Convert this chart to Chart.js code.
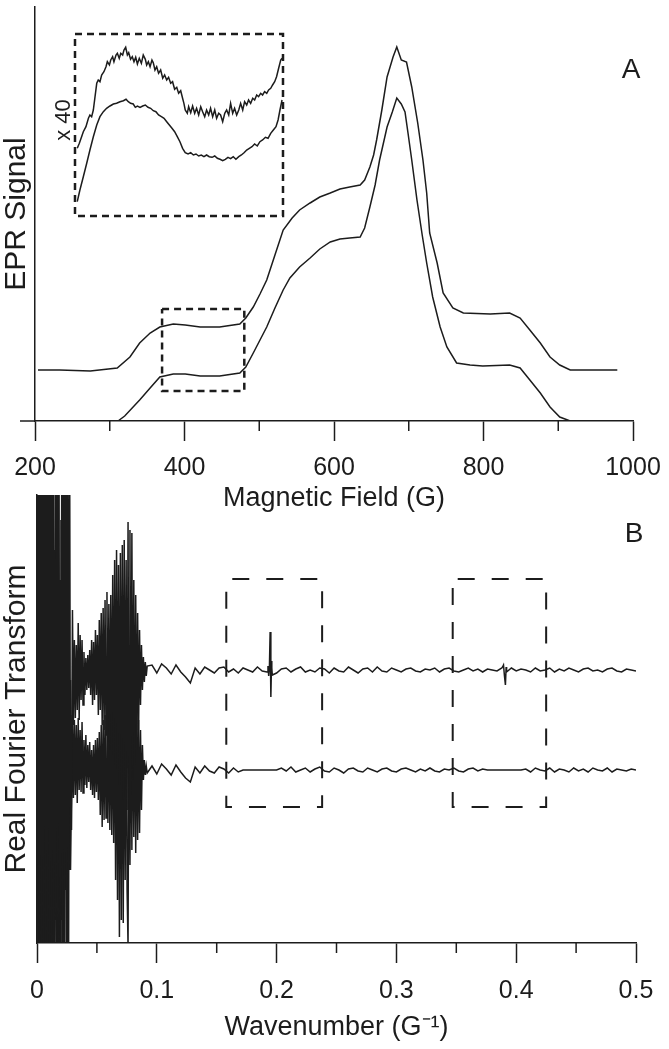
<!DOCTYPE html>
<html>
<head>
<meta charset="utf-8">
<script src="https://cdn.jsdelivr.net/npm/chart.js@4.4.1/dist/chart.umd.min.js"></script>
<style>
  body { margin: 0; background: #fff; }
  #wrap { position: relative; width: 669px; height: 1049px; }
  canvas { position: absolute; left: 0; }
  #chartA { top: 0; }
  #chartB { top: 480px; }
</style>
</head>
<body>
<div id="wrap">
  <canvas id="chartA" width="669" height="520"></canvas>
  <canvas id="chartB" width="669" height="569"></canvas>
</div>
<script>
// ---- panel A : EPR spectra (field in G, signal in arbitrary units) ----
const eprUpperField = [204, 233, 274, 310, 327, 340, 354, 367, 385, 401,
  421, 447, 474, 482, 492, 501, 510, 521, 532, 544,
  554, 568, 581, 595, 608, 621, 635, 641, 648, 653,
  657, 664, 671, 675, 679, 684, 690, 697, 704, 712,
  719, 724, 728, 738, 746, 759, 773, 809, 835, 849,
  862, 876, 889, 902, 916, 952, 979]
const eprUpper = [51, 51, 50, 53, 64, 78, 88, 94, 97, 96,
  94, 94, 97, 103, 114, 127, 141, 166, 191, 203,
  211, 218, 224, 228, 232, 234, 236, 241, 254, 266,
  281, 311, 344, 354, 364, 374, 361, 359, 334, 298,
  261, 228, 188, 158, 128, 113, 108, 107, 108, 103,
  91, 78, 64, 56, 51, 51, 51]

const eprLowerField = [200, 311, 320, 340, 354, 367, 385, 401, 421, 447,
  474, 482, 492, 501, 510, 521, 532, 541, 554, 568,
  581, 595, 608, 621, 635, 641, 648, 655, 661, 671,
  678, 684, 690, 695, 699, 704, 711, 718, 724, 732,
  742, 751, 764, 782, 799, 835, 849, 862, 876, 889,
  902, 916, 1000]
const eprLower = [0, 0, 5, 21, 33, 44, 47, 47, 45, 45,
  48, 54, 68, 81, 94, 113, 131, 143, 154, 163,
  172, 179, 182, 183, 184, 193, 214, 236, 261, 294,
  309, 323, 317, 309, 288, 261, 221, 186, 158, 124,
  94, 74, 58, 56, 55, 56, 53, 41, 28, 14,
  4, 0, 0]

// zoomed window (x 40 inset)
const zoomField = [370, 480]
const zoomSignal = [30, 112]
const insetFrame = [0, 182]

const insetUpperField = [371.2, 372.3, 373.5, 374.4, 375.8, 377.1, 377.9, 378.8, 379.7, 380.6,
  381.5, 382.3, 383.2, 384.1, 385.3, 386.4, 387.1, 388.2, 388.9, 389.9,
  390.6, 391.7, 392.4, 393.4, 394.2, 395.2, 395.9, 396.8, 397.7, 398.4,
  399.4, 400.3, 401.2, 402.1, 403.0, 404.0, 405.1, 406.1, 407.2, 407.9,
  408.8, 409.7, 410.7, 411.4, 412.3, 413.2, 414.2, 415.3, 416.4, 417.4,
  418.5, 419.5, 420.6, 421.6, 422.7, 423.8, 424.8, 425.9, 426.9, 427.6,
  428.3, 429.4, 430.1, 431.2, 432.2, 433.3, 434.3, 435.4, 436.5, 437.5,
  438.6, 439.6, 440.7, 441.7, 442.8, 443.9, 444.9, 446.0, 447.0, 448.1,
  449.2, 450.2, 451.3, 452.3, 453.4, 454.4, 455.5, 456.6, 457.6, 458.7,
  459.7, 460.8, 461.8, 462.9, 464.0, 465.0, 466.1, 467.1, 468.2, 469.2,
  470.3, 471.4, 472.4, 473.5, 474.5, 475.6, 476.6, 477.7, 478.8, 479.5]
const insetUpper = [67.7, 72.7, 79.3, 84.3, 89.3, 97.7, 101, 99.3, 106, 119.3,
  132.7, 136, 134.3, 141, 144.3, 149.3, 154.3, 151, 156, 159.3,
  154.3, 161, 162.7, 157.7, 162.7, 161, 166, 168.7, 161, 163.3,
  156.7, 159.3, 154.3, 158.7, 152, 157.7, 152.7, 161, 156.7, 151,
  154.3, 149.3, 156, 153.3, 146, 149.3, 142.7, 146, 137.7, 141,
  136, 138.7, 132.7, 134.3, 126.7, 128.7, 122.7, 125.3, 117.7, 112.7,
  106, 102.7, 109.3, 103.3, 110, 102.7, 107.7, 101, 109.3, 104.3,
  99.3, 106, 101, 107.7, 99.3, 106, 97.7, 102.7, 101, 94.3,
  102.7, 106, 101, 112.7, 102.7, 107.7, 101, 106, 112.7, 106,
  114.3, 111, 116, 112.7, 117.7, 116, 121, 119.3, 122.7, 121,
  124.3, 122.7, 126, 127.7, 131, 134.3, 139.3, 147.7, 156, 157.7]

const insetLowerField = [371.2, 372.6, 374.4, 376.2, 377.9, 379.7, 381.5, 383.2, 385.0, 386.7,
  388.5, 390.3, 392.0, 393.8, 395.6, 397.0, 398.2, 399.4, 400.8, 401.9,
  403.0, 404.4, 405.8, 407.2, 408.6, 410.0, 411.4, 412.8, 414.2, 415.7,
  417.1, 418.5, 419.9, 421.3, 422.7, 424.1, 425.5, 426.9, 428.3, 429.8,
  431.2, 432.6, 434.0, 435.4, 436.8, 438.2, 439.6, 441.0, 442.5, 443.9,
  445.3, 446.7, 448.1, 449.5, 450.9, 452.3, 453.7, 455.1, 456.6, 458.0,
  459.4, 460.8, 462.2, 463.6, 465.0, 466.4, 467.8, 469.2, 470.7, 472.1,
  473.5, 474.9, 476.3, 477.4, 478.4, 479.5]
const insetLower = [14.3, 26, 39.3, 52.7, 66, 79.3, 91, 99.3, 104.3, 107.7,
  110, 112, 112.7, 114.3, 115.3, 116.7, 114.3, 112.7, 112, 108.7,
  110, 108.7, 110, 111, 108.7, 107.7, 105.3, 104.3, 101, 99.3,
  97.7, 94.3, 91, 87.7, 84.3, 79.3, 74.3, 67.7, 63.3, 62,
  63.3, 61, 62, 60, 61, 59.3, 61, 59.3, 58.7, 60,
  57.7, 56.7, 55.3, 56.7, 58.7, 57.3, 59.3, 56.7, 59.3, 61,
  63.3, 66, 67.7, 69.3, 72, 70, 74.3, 76, 78.7, 77.7,
  82.7, 86, 89.3, 96, 106, 116]

const fieldTicksMinor = [300, 500, 700, 900]

// ---- panel B : real Fourier transform (wavenumber in 1/G) ----
// dense part, sampled every ftDenseStep from 0
const ftDenseStep = 0.0008
const ftTopDense = [350, -320, 410, -300, 380, -350, 300, -280, 420, -330,
  360, -310, 390, -290, 340, -360, 410, -300, 120, -250,
  330, -320, 380, -270, 90, -300, 350, -340, 400, -310,
  370, -330, 320, -280, 260, -200,
  -120, 60, -55, 30, -48, 25, -40, 47, -50, 35,
  -30, 30, -35, 18, -25, 12, -20, 15, -18, 20, -25,
  30, -35, 28, -30, 40, -25, 35, -45, 50, -40,
  57, -55, 62, -60, 70, -65, 78, -72, 66, -80,
  75, -70, 95, -85, 110, -95, 120, -100, 105, -115,
  117, -105, 125, -130, 130, -120, 110, -140, 148, -150,
  140, -125, 137, -110, 90, -95, 75, -80, 57, -60,
  40, -35, 25, -20, 13, -12, 8, -6, 4]
const ftBotDense = [-300, 320, -260, 380, -330, 290, -350, 340, -280, 400,
  -310, 300, -340, 360, -290, 330, -320, 280, -300, 350,
  -260, 310, -330, 290, -310, 250, -150, 200, -185, 160,
  -120, 140, -180, 120, -100, 90,
  -60, 55, -28, 50, -25, 45, -33, 52, -20, 40,
  -22, 48, -23, 30, -15, 35, -18, 25, -12, 28, -20,
  20, -25, 25, -28, 30, -22, 32, -30, 38, -45,
  45, -57, 50, -50, 55, -48, 60, -53, 62, -60,
  70, -65, 75, -73, 85, -110, 95, -130, 110, -167,
  130, -150, 125, -153, 115, -110, 120, -120, -176, 110,
  -95, 80, -80, 85, -67, 80, -83, 70, -70, 50,
  -63, 40, -40, 25, -10, 10, -5, 4, -3]

// tail, sampled every ftTailStep from ftTailStart
const ftTailStart = 0.096
const ftTailStep = 0.004
const ftTopTail = [5, -3, 6, 2, -4, 5, -2, -7, -13, 2,
  -4, 3, 0, -3, 2, 3, -2, 1, -3, 2,
  0, -2, 3, -1, -2, 2, -3, 1, 2, -2,
  1, 3, -2, 0, -2, 2, 1, -3, 2, -1,
  -2, 3, 0, -3, 1, 2, -2, 3, -1, -2,
  2, 0, -2, 1, 2, -1, -2, 1, 0, 2,
  -2, 1, 2, -1, -2, 0, 2, -1, 1, -2,
  1, 0, -1, 2, -2, 2, -1, 1, 0, -2,
  2, -1, 0, 2, -2, 1, -1, 2, 0, -2,
  1, 2, -1, 0, -2, 1, 2, -1, -2, 1,
  0, -1]
const ftBotTail = [4, -4, 6, 1, -5, 5, -2, -8, -12, 3,
  -3, 4, -1, -3, 3, 1, -3, 2, -2, 0,
  0, 0, 0, 0, 0, 0, 0, 2, -1, 3,
  -2, 0, 2, -2, 1, 3, -1, -2, 2, 0,
  -3, 1, 2, -1, -2, 2, 0, -2, 1, 2,
  -1, -2, 1, 2, 0, -2, 1, -1, 2, -1,
  -2, 1, 0, 2, -1, -2, 1, 2, -1, 1,
  0, 0, 0, 0, 0, 0, 0, 0, 1, -2,
  2, 0, -1, 2, -2, 1, 0, -2, 2, -1,
  1, -2, 2, 0, -1, 2, -2, 1, 0, -1,
  1, 0]

// sharp lines in the upper transform
const ftSpikeX = [0.1928, 0.1934, 0.1940, 0.1946, 0.1952, 0.1958, 0.1964,
  0.3886, 0.3894, 0.3902, 0.3910, 0.3916]
const ftSpikeY = [4, -6, 3, 38, -27, 9, -5,
  3, 5, -6, -15, 3]

// dashed windows
const ftWindow1 = [0.158, 0.238]
const ftWindow2 = [0.347, 0.425]
const ftWindowSignal = [136, 364]

const waveTicksMinor = [0.05, 0.15, 0.25, 0.35, 0.45]

// ---- drawing ----
const ink = '#1c1c1c'
const family = '"Liberation Sans", Arial, Helvetica, sans-serif'
Chart.defaults.font.family = family
Chart.defaults.color = ink
Chart.defaults.animation = false

// vertical offsets of the stacked traces in panel B
const topOffset = 273
const botOffset = 173

let pairs = function (xs, ys) {
    return xs.map((x, i) => ({ x: x, y: ys[i] }))
}

let frame = function (xr, yr) {
    return [
        { x: xr[0], y: yr[1] }, { x: xr[1], y: yr[1] },
        { x: xr[1], y: yr[0] }, { x: xr[0], y: yr[0] },
        { x: xr[0], y: yr[1] }
    ]
}

let trace = function (dense, tail, offset, spikesX, spikesY) {
    let pts = dense.map((v, i) => ({ x: i * ftDenseStep, y: v + offset }))
    tail.forEach((v, k) => pts.push({ x: ftTailStart + k * ftTailStep, y: v + offset }))
    if (spikesX) {
        spikesX.forEach((x, i) => pts.push({ x: x, y: spikesY[i] + offset }))
        pts.sort((a, b) => a.x - b.x)
    }
    return pts
}

let lineSet = function (data, width, extra) {
    return Object.assign({
        data: data,
        borderColor: ink,
        borderWidth: width,
        pointRadius: 0,
        tension: 0,
        fill: false
    }, extra || {})
}

const panelMarks = {
    id: 'panelMarks',
    afterDraw(chart, args, opts) {
        const ctx = chart.ctx
        const xs = chart.scales.x
        const area = chart.chartArea
        ctx.save()
        ctx.strokeStyle = ink
        ctx.lineWidth = 1.5
        opts.minor.forEach(v => {
            const px = xs.getPixelForValue(v)
            ctx.beginPath()
            ctx.moveTo(px, xs.top)
            ctx.lineTo(px, xs.top + 10)
            ctx.stroke()
        })
        if (opts.lead) {
            ctx.beginPath()
            ctx.moveTo(area.left - opts.lead, xs.top)
            ctx.lineTo(area.left, xs.top)
            ctx.stroke()
        }
        ctx.fillStyle = ink
        ctx.textAlign = 'center'
        ctx.textBaseline = 'middle'
        ctx.font = '28px ' + family
        ctx.fillText(opts.letter, area.right - 2, area.top + opts.letterDy)
        if (opts.note) {
            const nx = chart.scales.x2.getPixelForValue(opts.note.x)
            const ny = chart.scales.y2.getPixelForValue(opts.note.y)
            ctx.translate(nx, ny)
            ctx.rotate(-Math.PI / 2)
            ctx.font = '22px ' + family
            ctx.fillText(opts.note.text, 0, 0)
        }
        ctx.restore()
    }
}

let xAxis = function (min, max, step, title, height, pad) {
    return {
        type: 'linear', min: min, max: max,
        ticks: {
            stepSize: step, font: { size: 25 }, color: ink, padding: pad,
            callback: v => String(Math.round(v * 100) / 100)
        },
        grid: { display: true, drawOnChartArea: false, drawTicks: true, tickLength: 20, tickWidth: 1.5, tickColor: ink },
        border: { display: true, color: ink, width: 1.5 },
        title: { display: true, text: title, font: { size: 27 }, color: ink, padding: { top: 0, bottom: 5 } },
        afterFit: s => {
            s.height = height
            s.paddingLeft = 0
            s.paddingRight = 0
        }
    }
}

let yAxis = function (min, max, title, width) {
    return {
        type: 'linear', min: min, max: max,
        ticks: { display: false },
        grid: { display: false, drawTicks: false },
        border: { display: true, color: ink, width: 1.5 },
        title: { display: true, text: title, font: { size: 30, lineHeight: 1 }, color: ink, padding: { top: 2, bottom: 3 } },
        afterFit: s => { s.width = width }
    }
}

/*
 -- PANEL A --
*/
new Chart(document.getElementById('chartA'), {
    type: 'line',
    data: {
        datasets: [
            lineSet(pairs(eprUpperField, eprUpper), 1.5),
            lineSet(pairs(eprLowerField, eprLower), 1.5),
            lineSet(frame(zoomField, zoomSignal), 2.5, { borderDash: [7, 5] }),
            lineSet(frame(zoomField, insetFrame), 2.5, { borderDash: [7, 5], xAxisID: 'x2', yAxisID: 'y2' }),
            lineSet(pairs(insetUpperField, insetUpper), 1.5, { xAxisID: 'x2', yAxisID: 'y2' }),
            lineSet(pairs(insetLowerField, insetLower), 1.5, { xAxisID: 'x2', yAxisID: 'y2' })
        ]
    },
    options: {
        responsive: false,
        devicePixelRatio: 1,
        layout: { padding: { top: 7, right: 36, left: 0, bottom: 0 } },
        scales: {
            x: xAxis(200, 1000, 200, 'Magnetic Field (G)', 99, 12),
            y: yAxis(0, 414, 'EPR Signal', 35),
            x2: { type: 'linear', display: false, min: 348.85, max: 665.1 },
            y2: { type: 'linear', display: false, min: -205, max: 209 }
        },
        plugins: {
            legend: { display: false },
            tooltip: { enabled: false },
            panelMarks: { minor: fieldTicksMinor, letter: 'A', letterDy: 63, lead: 15, note: { text: 'x 40', x: 364.2, y: 96 } }
        }
    },
    plugins: [panelMarks]
})

/*
 -- PANEL B --
*/
new Chart(document.getElementById('chartB'), {
    type: 'line',
    data: {
        datasets: [
            lineSet(trace(ftTopDense, ftTopTail, topOffset, ftSpikeX, ftSpikeY), 1.5),
            lineSet(trace(ftBotDense, ftBotTail, botOffset), 1.5),
            lineSet(frame(ftWindow1, ftWindowSignal), 2, { borderDash: [17, 17], borderDashOffset: 28 }),
            lineSet(frame(ftWindow2, ftWindowSignal), 2, { borderDash: [17, 17], borderDashOffset: 29 })
        ]
    },
    options: {
        responsive: false,
        devicePixelRatio: 1,
        layout: { padding: { top: 15, right: 33, left: 0, bottom: 0 } },
        scales: {
            x: xAxis(0, 0.5, 0.1, 'Wavenumber (G\u207B\u00B9)', 106, 13),
            y: yAxis(0, 448, 'Real Fourier Transform', 37)
        },
        plugins: {
            legend: { display: false },
            tooltip: { enabled: false },
            panelMarks: { minor: waveTicksMinor, letter: 'B', letterDy: 39 }
        }
    },
    plugins: [panelMarks]
})
</script>
</body>
</html>
